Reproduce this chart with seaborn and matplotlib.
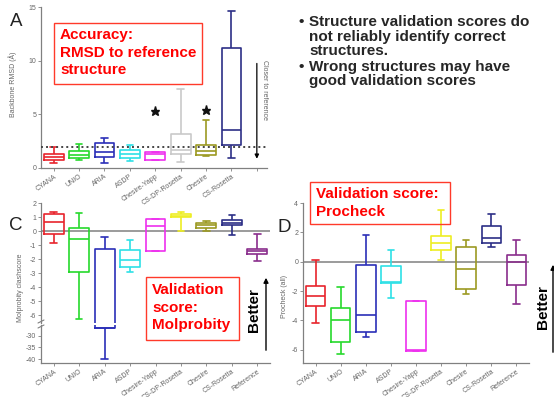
import numpy as np
import pandas as pd
import matplotlib
matplotlib.use("Agg")
import matplotlib.pyplot as plt
import matplotlib.transforms as mtransforms
from matplotlib.patches import Rectangle, FancyArrowPatch
import seaborn as sns

W, H = 554, 397

methods = ["CYANA", "UNIO", "ARIA", "ASDP", "Chesire-Yapp",
           "CS-DP-Rosetta", "Chesire", "CS-Rosetta", "Reference"]

# five-number summaries per method: [min, q1, median, q3, max]
rmsd_methods = methods[:8]
rmsd_summary = [
    [0.45, 0.70, 1.00, 1.30, 1.95],
    [0.75, 0.90, 1.20, 1.55, 2.20],
    [0.45, 1.00, 1.45, 2.35, 2.75],
    [0.65, 0.95, 1.30, 1.70, 2.10],
    [0.75, 0.75, 1.30, 1.50, 1.50],
    [0.55, 1.30, 1.70, 3.20, 7.40],
    [1.10, 1.20, 1.60, 2.15, 4.50],
    [0.95, 2.15, 3.55, 11.15, 14.60],
]
rmsd_outlier_methods = ["Chesire-Yapp", "Chesire"]
rmsd_outlier_values = [5.35, 5.45]
rmsd_threshold = 2.0

clash_summary = [
    [-0.85, -0.20, 0.65, 1.25, 1.35],
    [-6.30, -2.90, -0.60, 0.20, 1.30],
    [-40.1, -26.6, -26.6, -1.30, -0.45],
    [-2.95, -2.60, -2.05, -1.35, -0.65],
    [-1.45, -1.45, 0.35, 0.88, 0.88],
    [0.00, 1.00, 1.10, 1.24, 1.35],
    [0.00, 0.25, 0.45, 0.60, 0.70],
    [-0.25, 0.42, 0.60, 0.80, 1.12],
    [-2.15, -1.65, -1.45, -1.30, -0.20],
]

procheck_summary = [
    [-4.15, -3.05, -2.35, -1.65, 0.12],
    [-6.30, -5.48, -4.00, -3.15, -1.70],
    [-5.10, -4.82, -3.64, -0.20, 1.84],
    [-2.48, -1.45, -1.35, -0.32, 0.82],
    [-6.10, -6.10, -6.00, -2.70, -2.70],
    [0.10, 0.82, 1.27, 1.73, 3.55],
    [-2.18, -1.86, -0.50, 1.00, 1.45],
    [1.00, 1.27, 1.60, 2.41, 3.25],
    [-2.90, -1.57, 0.00, 0.43, 1.50],
]

colors = {
    "CYANA": "#e8242c", "UNIO": "#26d92c", "ARIA": "#2b2fb8",
    "ASDP": "#2ee0e6", "Chesire-Yapp": "#ee30ee", "CS-DP-Rosetta": "#eeee22",
    "Chesire": "#9c9a22", "CS-Rosetta": "#2c2f86", "Reference": "#8a2e8c",
}
colors_rmsd = dict(colors, **{"CS-DP-Rosetta": "#c9c9c9"})

sns.set_style("ticks")
plt.rcParams["font.family"] = ["Liberation Sans", "DejaVu Sans"]
plt.rcParams["axes.unicode_minus"] = False

fig = plt.figure(figsize=(W / 100, H / 100), dpi=100)
# transform for pixel positions measured from the top-left corner
pix = mtransforms.Affine2D().scale(1 / W, -1 / H).translate(0, 1) + fig.transFigure

GRAY = "#666666"
TICK_FS = 5.0
NOTE_FS = 11


def rect(l, t, r, b):
    return [l / W, 1 - b / H, (r - l) / W, (b - t) / H]


def long_frame(names, summary):
    rows = [(m, v) for m, vals in zip(names, summary) for v in vals]
    return pd.DataFrame(rows, columns=["method", "value"])


def draw_boxes(ax, names, summary, palette):
    df = long_frame(names, summary)
    sns.boxplot(data=df, x="method", y="value", hue="method",
                order=methods, hue_order=methods, palette=palette,
                fill=False, whis=(0, 100), width=0.78, linewidth=1.2,
                showfliers=False, legend=False, capwidths=0.26, ax=ax)
    ax.set_xlabel("")
    ax.set_ylabel("")


def style_axes(ax):
    sns.despine(ax=ax)
    for s in ("left", "bottom"):
        ax.spines[s].set_color("#808080")
        ax.spines[s].set_linewidth(0.9)
    ax.tick_params(axis="both", length=2, width=0.6, colors="#808080",
                   labelsize=TICK_FS, labelcolor=GRAY, pad=1.5)
    ax.set_facecolor("none")


def set_xlabels(ax, labels):
    ax.set_xticks(range(len(labels)))
    ax.set_xticklabels(labels, rotation=35, ha="right",
                       rotation_mode="anchor")


def red_box(x0, y0, x1, y1, text, tx, ty):
    fig.patches.append(Rectangle((x0, y0), x1 - x0, y1 - y0, fill=False,
                                 edgecolor="#ff3a2a", linewidth=1.0,
                                 transform=pix))
    fig.text(tx, ty, text, transform=pix, color="#ff0000", fontsize=11,
             fontweight="bold", va="top", ha="left", linespacing=1.34)


# ---- A: backbone RMSD ----
axA = fig.add_axes(rect(41, 7, 267, 168))
draw_boxes(axA, rmsd_methods, rmsd_summary, colors_rmsd)
axA.axhline(rmsd_threshold, color="#444444", lw=1.4, ls=(0, (1, 1.6)), zorder=3)
star_x = [methods.index(m) for m in rmsd_outlier_methods]
axA.plot(star_x, rmsd_outlier_values, ls="none", marker="*", ms=6.5,
         color="#111111")
axA.set_xlim(-0.5, 8.4)
axA.set_ylim(0, 15)
axA.set_yticks([0, 5, 10, 15])
style_axes(axA)
set_xlabels(axA, rmsd_methods + [""])
axA.annotate("", xy=(8, 0.6), xytext=(8, 10.0),
             arrowprops=dict(arrowstyle="-|>", color="black", lw=0.9,
                             mutation_scale=6))
axA.text(8.15, 7.3, "Closer to reference", rotation=-90, fontsize=TICK_FS,
         color=GRAY, ha="left", va="center")
fig.text(13, 84, "Backbone RMSD (Å)", transform=pix, rotation=90,
         fontsize=TICK_FS, color=GRAY, ha="center", va="center")
fig.text(16, 22, "A", transform=pix, fontsize=13.5, color="#222222",
         ha="center", va="center")
red_box(54, 23, 202, 84, "Accuracy:\nRMSD to reference\nstructure", 60, 28)

# ---- C: Molprobity clashscore (broken axis) ----
axC1 = fig.add_axes(rect(41, 203, 270, 323))
axC2 = fig.add_axes(rect(41, 325, 270, 363))
for ax in (axC1, axC2):
    draw_boxes(ax, methods, clash_summary, colors)
    ax.set_xlim(-0.5, 8.5)
    style_axes(ax)
axC1.axhline(0, color="#8a8a8a", lw=1.2, zorder=0)
axC1.set_ylim(-6.57, 2)
axC1.set_yticks(range(2, -7, -1))
axC1.spines["bottom"].set_visible(False)
axC1.tick_params(axis="x", bottom=False, labelbottom=False)
axC2.set_ylim(-41.7, -25.4)
axC2.set_yticks([-30, -35, -40])
set_xlabels(axC2, methods)
for yb in (321.5, 326.5):
    fig.add_artist(plt.Line2D([38, 44], [yb + 1.5, yb - 1.5], transform=pix,
                              color="#808080", lw=0.8))
fig.text(21, 288, "Molprobity clashscore", transform=pix, rotation=90,
         fontsize=TICK_FS, color=GRAY, ha="center", va="center")
fig.text(16, 225, "C", transform=pix, fontsize=13.5, color="#222222",
         ha="center", va="center")
red_box(146, 277, 239, 340, "Validation\nscore:\nMolprobity", 152, 283)
fig.text(254, 310, "Better", transform=pix, rotation=90, fontsize=11,
         fontweight="bold", color="black", ha="center", va="center")
fig.add_artist(FancyArrowPatch(
    (266, 353), (266, 275), transform=pix, arrowstyle="-|>",
    mutation_scale=7, color="black", lw=1.0))

# ---- D: Procheck ----
axD = fig.add_axes(rect(303, 203, 529, 363))
draw_boxes(axD, methods, procheck_summary, colors)
axD.axhline(0, color="#8a8a8a", lw=1.2, zorder=0)
axD.set_xlim(-0.5, 8.5)
axD.set_ylim(-6.9, 4)
axD.set_yticks([4, 2, 0, -2, -4, -6])
style_axes(axD)
set_xlabels(axD, methods)
fig.text(284, 296, "Procheck (all)", transform=pix, rotation=90,
         fontsize=TICK_FS, color=GRAY, ha="center", va="center")
fig.text(284, 227, "D", transform=pix, fontsize=13.5, color="#222222",
         ha="center", va="center")
red_box(310, 182, 450, 224, "Validation score:\nProcheck", 316, 187)
fig.text(543, 307, "Better", transform=pix, rotation=90, fontsize=11,
         fontweight="bold", color="black", ha="center", va="center")
fig.add_artist(FancyArrowPatch(
    (553, 355), (553, 262), transform=pix, arrowstyle="-|>",
    mutation_scale=7, color="black", lw=1.0))

# ---- bullet notes ----
bullet_lines = [
    (22, True, "Structure validation scores do"),
    (37, False, "not reliably identify correct"),
    (51, False, "structures."),
    (67, True, "Wrong structures may have"),
    (81, False, "good validation scores"),
]
for y, bullet, line in bullet_lines:
    if bullet:
        fig.text(301, y, "•", transform=pix, fontsize=NOTE_FS,
                 fontweight="bold", ha="center", va="center")
    fig.text(309, y, line, transform=pix, fontsize=NOTE_FS, fontweight="bold",
             ha="left", va="center")

fig.savefig("out.png", dpi=100)
